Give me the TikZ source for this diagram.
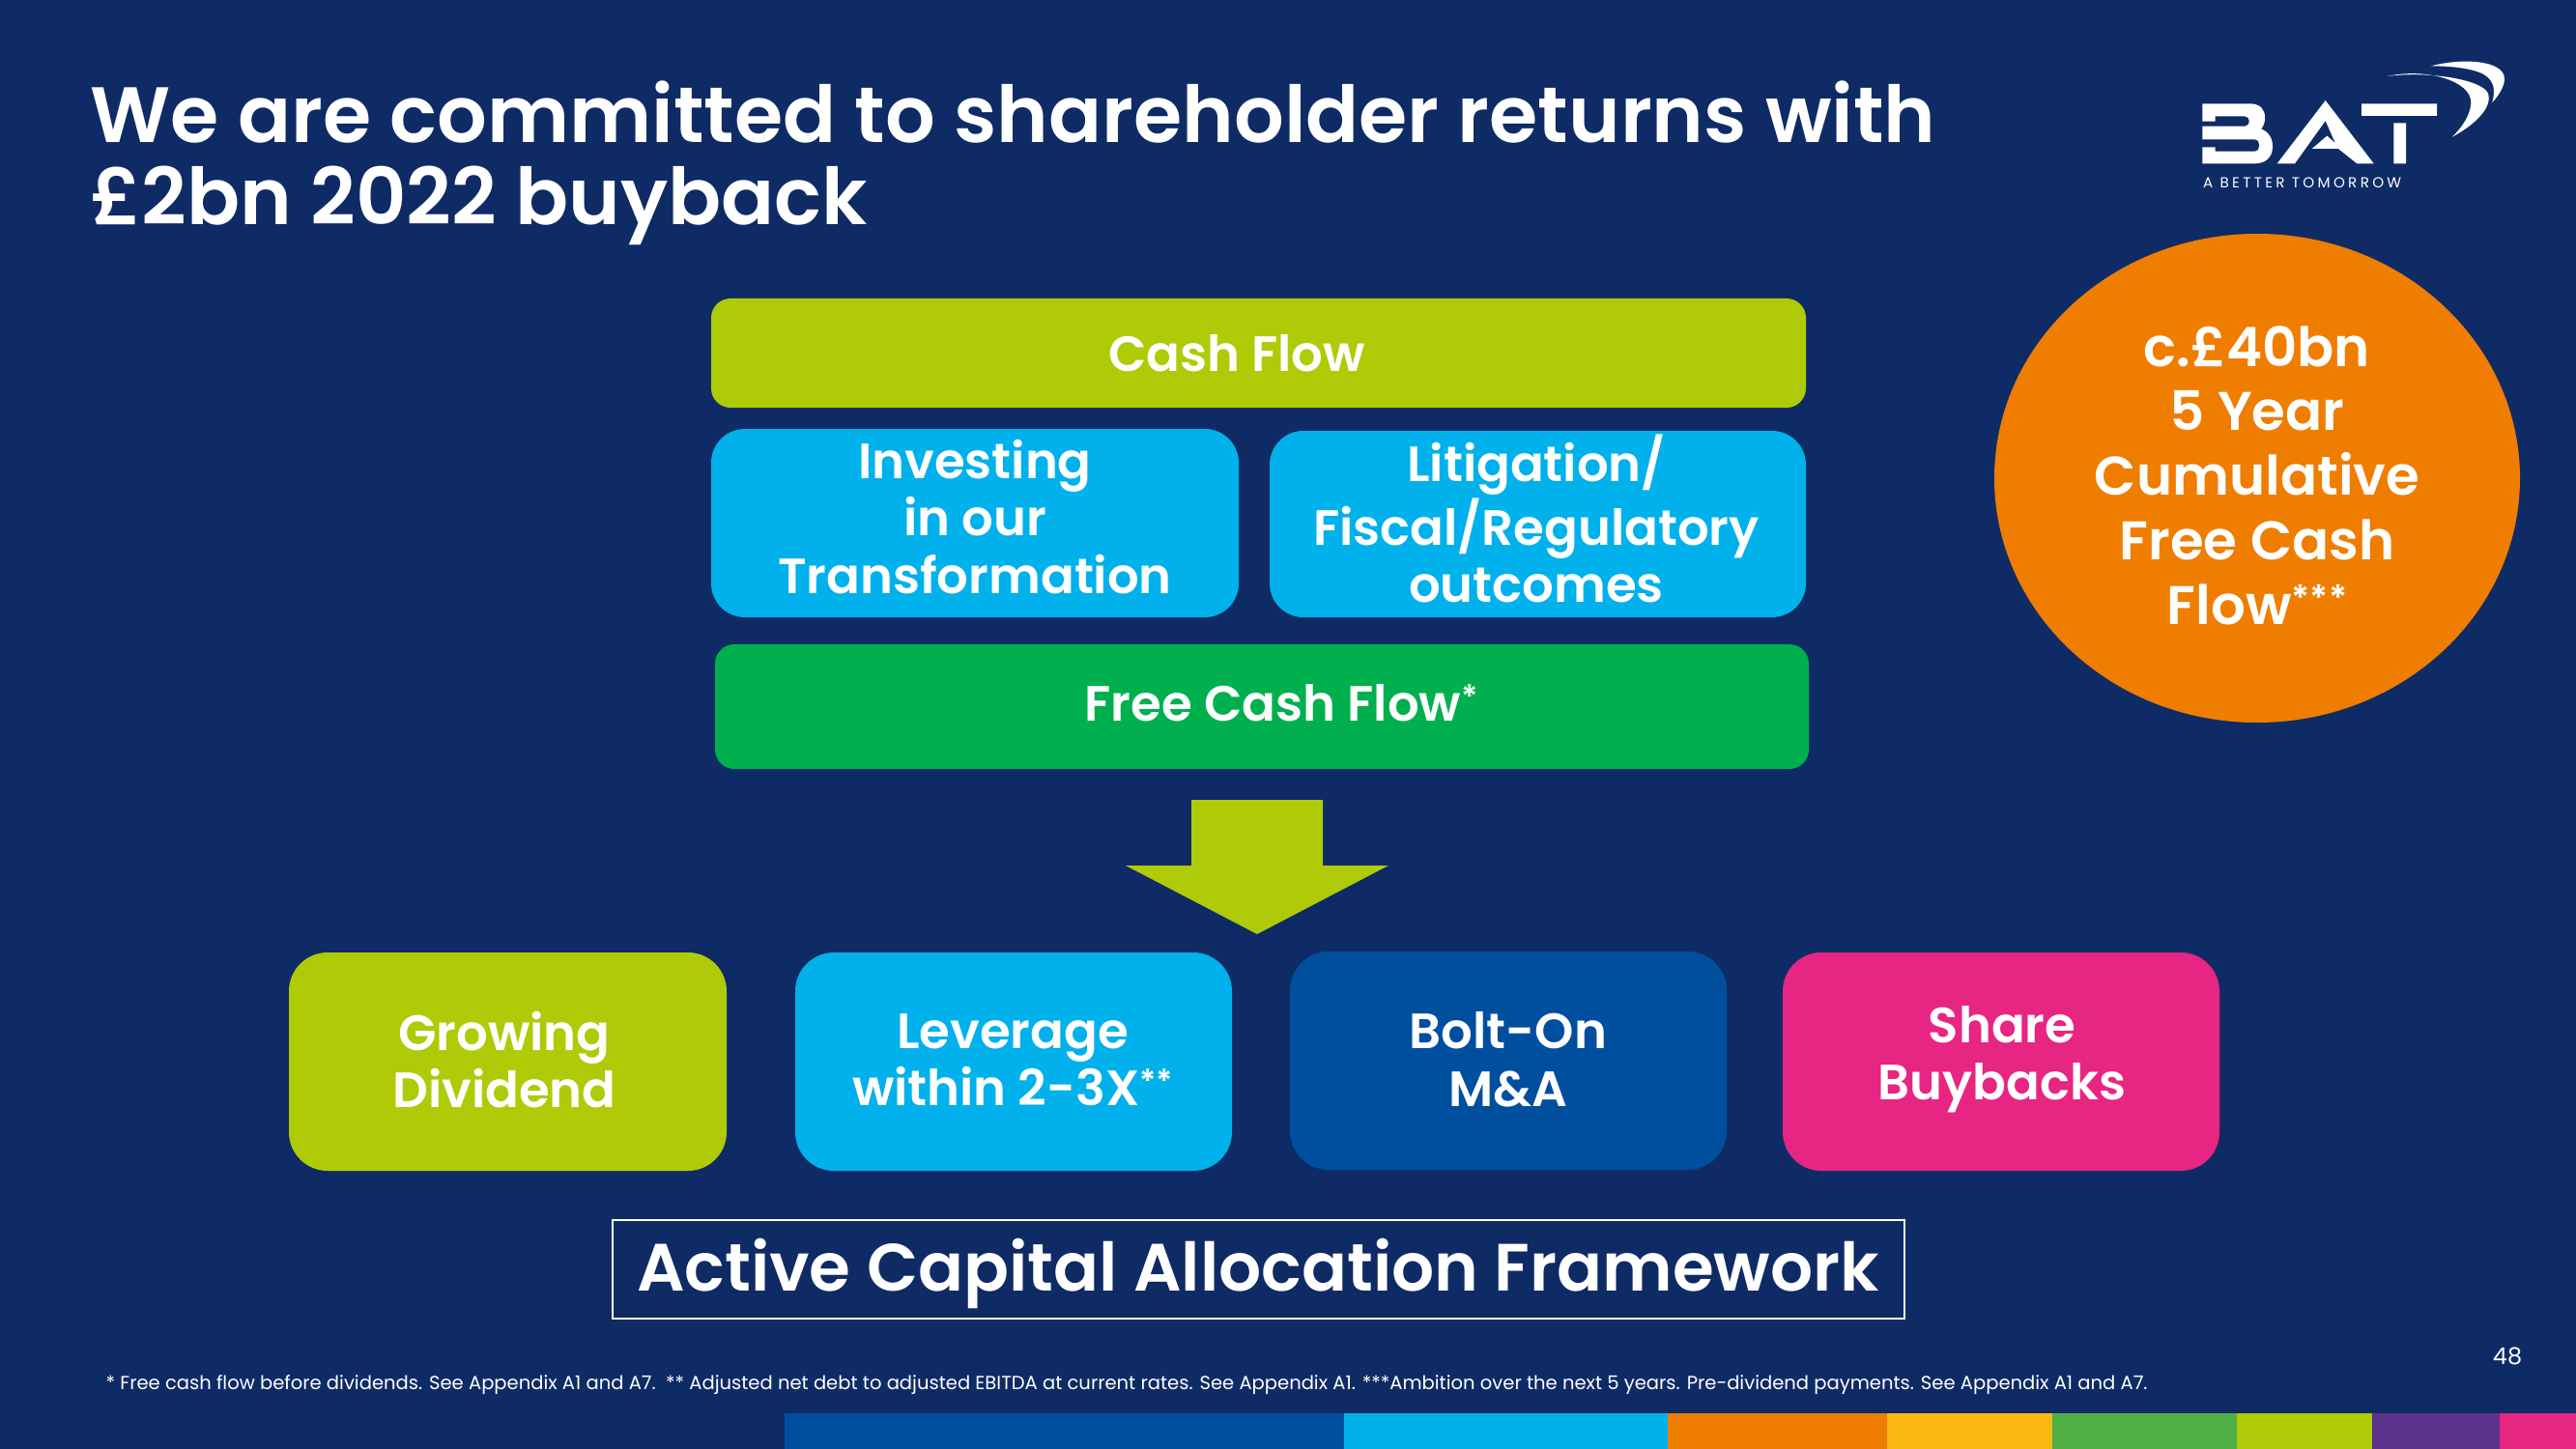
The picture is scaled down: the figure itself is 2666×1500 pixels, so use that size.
\documentclass[tikz,border=0pt]{standalone}
\usepackage{fontspec}
\setmainfont{Poppins}[BoldFont={Poppins SemiBold}]
\definecolor{navy}{HTML}{0F2B65}
\definecolor{lime}{HTML}{AFCB08}
\definecolor{sky}{HTML}{00B1EB}
\definecolor{leaf}{HTML}{00B04F}
\definecolor{royal}{HTML}{004F9F}
\definecolor{pink}{HTML}{E72582}
\definecolor{orng}{HTML}{EF7D00}
\definecolor{ambr}{HTML}{FDB913}
\definecolor{grn}{HTML}{50AF47}
\definecolor{purp}{HTML}{5C328C}
\newcommand{\fs}[2]{\fontsize{#1}{#2}\selectfont}
\newcommand{\stars}[2]{\raisebox{#2}{\fontsize{#1}{#1}\selectfont\bfseries ***}}
\newcommand{\supr}[1]{\raisebox{0.25em}{\fontsize{9.5}{9.5}\selectfont #1}}
\tikzset{x=0.01cm,y=-0.01cm,
 lbl/.style={white,font=\fs{14.6}{16.9}\bfseries,align=center,inner sep=0pt}}
\begin{document}
\begin{tikzpicture}
\useasboundingbox (0,0) rectangle (2666,1500);
\fill[navy] (0,0) rectangle (2666,1500);
\node[anchor=north west,white,font=\fs{23.1}{24.1}\bfseries,align=left,inner sep=0pt] (title) at (93,83) {We are committed to shareholder returns with\\£2bn 2022 buyback};
% bar
\fill[royal] (812,1463) rectangle (1391,1500);
\fill[sky] (1391,1463) rectangle (1726,1500);
\fill[orng] (1726,1463) rectangle (1953,1500);
\fill[ambr] (1953,1463) rectangle (2124,1500);
\fill[grn] (2124,1463) rectangle (2315,1500);
\fill[lime] (2315,1463) rectangle (2455,1500);
\fill[purp] (2455,1463) rectangle (2587,1500);
\fill[pink] (2587,1463) rectangle (2666,1500);
% boxes
\fill[lime,rounded corners=0.2cm] (736,309) rectangle (1869,422);
\node[lbl] (cf) at (1280,366) {Cash Flow};
\fill[sky,rounded corners=0.35cm] (736,444) rectangle (1282,639);
\node[lbl] (inv) at (1009,535) {Investing\\in our\\Transformation};
\fill[sky,rounded corners=0.35cm] (1314,446) rectangle (1869,639);
\node[lbl] (lit) at (1590,537) {Litigation/\\Fiscal/Regulatory\\outcomes};
\fill[leaf,rounded corners=0.2cm] (740,667) rectangle (1872,796);
\node[lbl] (fcf) at (1326,728) {Free Cash Flow\supr{*}};
\fill[lime] (1233,828) -- (1369,828) -- (1369,896) -- (1437,896) -- (1301,967) -- (1165,896) -- (1233,896) -- cycle;
\fill[lime,rounded corners=0.4cm] (299,986) rectangle (752,1212);
\node[lbl] (div) at (522,1097) {Growing\\Dividend};
\fill[sky,rounded corners=0.4cm] (823,986) rectangle (1275,1212);
\node[lbl] (lev) at (1048,1097) {Leverage\\within 2-3X\supr{**}};
\fill[royal,rounded corners=0.4cm] (1335,985) rectangle (1787,1211);
\node[lbl] (bolt) at (1561,1097) {Bolt-On\\M\&A};
\fill[pink,rounded corners=0.4cm] (1845,986) rectangle (2297,1212);
\node[lbl] (share) at (2072,1097) {Share\\Buybacks};
\draw[white,line width=0.6pt] (634,1263) rectangle (1971,1365);
\node[white,font=\fs{19.7}{20}\bfseries,inner sep=0pt] (acaf) at (1302,1318) {Active Capital Allocation Framework};
\fill[orng] (2336,495) ellipse [x radius=272,y radius=253];
\node[white,font=\fs{16}{19}\bfseries,align=center,inner sep=0pt] (circ) at (2336,492) {c.£40bn\\5 Year\\Cumulative\\Free Cash\\Flow\raisebox{0.25em}{\fontsize{10.5}{10.5}\selectfont ***}};
\node[white,font=\fs{5.56}{6},anchor=west,inner sep=0pt] (foot) at (109,1434) {* Free cash flow before dividends. See Appendix A1 and A7.\ \ ** Adjusted net debt to adjusted EBITDA at current rates. See Appendix A1. ***Ambition over the next 5 years. Pre-dividend payments. See Appendix A1 and A7.};
\node[white,font=\fs{6.8}{7},inner sep=0pt] (page) at (2595,1404) {48};
% logo
\begin{scope}[shift={(2200,40)},scale=1/3]
\fill[white] (238,202) -- (385,202) .. controls (420,202) and (432,222) .. (432,245) .. controls (432,262) and (428,272) .. (420,280) .. controls (445,290) and (456,310) .. (456,335) .. controls (456,368) and (435,388) .. (400,388) -- (238,388) -- (238,337) -- (278,337) -- (278,350) -- (400,350) .. controls (420,350) and (420,313) .. (400,313) -- (238,313) -- (238,272) -- (370,272) .. controls (388,272) and (388,241) .. (370,241) -- (278,241) -- (278,257) -- (238,257) -- cycle;
\fill[white] (620,192) -- (770,388) -- (718,388) -- (660,342) -- (578,342) -- (625,302) -- (651,325) -- (620,255) -- (525,388) -- (470,388) -- cycle;
\fill[white] (732,202) rectangle (966,240) (832,262) rectangle (870,388);
\fill[white] (812,117) .. controls (930,90) and (1075,130) .. (1072,200) .. controls (1070,240) and (1040,280) .. (1014,305) .. controls (1080,270) and (1140,215) .. (1125,170) .. controls (1105,125) and (930,100) .. (812,117) -- cycle;
\fill[white] (948,85) .. controls (1040,60) and (1175,65) .. (1176,125) .. controls (1176,150) and (1155,180) .. (1138,198) .. controls (1148,160) and (1145,130) .. (1110,110) .. controls (1070,90) and (1000,85) .. (948,85) -- cycle;
\node[white,font={\fs{4.3}{5}\addfontfeature{LetterSpace=22}},inner sep=0pt,anchor=west] (tag) at (238,447) {A BETTER TOMORROW};
\end{scope}
\end{tikzpicture}
\end{document}
